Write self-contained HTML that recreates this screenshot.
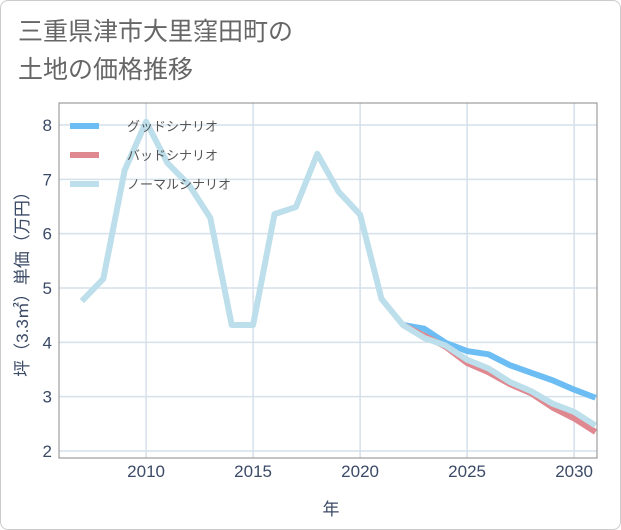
<!DOCTYPE html>
<html><head><meta charset="utf-8"><style>
body{margin:0;background:#fff;}
.card{position:absolute;left:0;top:0;width:619px;height:528px;border:1px solid #ccc;border-radius:8px;background:#fff;}
text{font-family:"Liberation Sans","Noto Sans CJK JP",sans-serif;}
</style></head><body>
<div class="card"></div>
<svg id="chart" width="621" height="530" style="position:absolute;left:0;top:0">
<text x="18" y="40" font-size="25" fill="#666">三重県津市大里窪田町の</text>
<text x="18" y="78" font-size="25" fill="#666">土地の価格推移</text>
<g id="grid"></g>
<g id="series"></g>
<rect x="59" y="103" width="538" height="355" fill="none" stroke="#888" stroke-width="1"/>
<g id="legend"></g>
<text x="331" y="515" font-size="17" fill="#3b4a66" text-anchor="middle">年</text>
<text transform="translate(28,280) rotate(-90)" font-size="17" fill="#3b4a66" text-anchor="middle">坪（3.3㎡）単価（万円）</text>
</svg>
<script>
const years=[2007,2008,2009,2010,2011,2012,2013,2014,2015,2016,2017,2018,2019,2020,2021,2022];
const normalHist=[4.76,5.17,7.17,8.06,7.3,6.9,6.29,4.32,4.32,6.36,6.49,7.47,6.77,6.35,4.8,4.32];
const futureYears=[2022,2023,2024,2025,2026,2027,2028,2029,2030,2031];
const goodVals=[4.32,4.25,3.99,3.84,3.78,3.58,3.44,3.3,3.13,2.98];
const badVals=[4.32,4.12,3.92,3.62,3.45,3.23,3.06,2.8,2.6,2.35];
const normalFuture=[4.32,4.08,3.94,3.68,3.52,3.27,3.1,2.87,2.72,2.47];
const xTicks=[2010,2015,2020,2025,2030];
const yTicks=[2,3,4,5,6,7,8];
const NS='http://www.w3.org/2000/svg';
const X0=59,X1=597,Y0=103,Y1=458;
const xMin=2005.93,xMax=2031.07;
function xs(v){return X0+(v-xMin)/(xMax-xMin)*(X1-X0);}
function ys(v){return 451-(v-2)*54.33;}
function mk(tag,attrs,parent){const e=document.createElementNS(NS,tag);for(const k in attrs)e.setAttribute(k,attrs[k]);parent.appendChild(e);return e;}
const grid=document.getElementById('grid');
xTicks.forEach(t=>{
  const l=mk('line',{x1:xs(t),x2:xs(t),y1:Y0,y2:Y1,stroke:'#d5e0ea','stroke-width':1.5},grid);
  
  
  const tx=mk('text',{x:xs(t),y:477,'font-size':17,fill:'#3b4a66','text-anchor':'middle'},grid);
  tx.textContent=t;
  
  
});
yTicks.forEach(t=>{
  const l=mk('line',{x1:X0,x2:X1,y1:ys(t),y2:ys(t),stroke:'#d5e0ea','stroke-width':1.5},grid);
  
  
  const tx=mk('text',{x:52,y:ys(t)+6,'font-size':17,fill:'#3b4a66','text-anchor':'end'},grid);
  tx.textContent=t;
  
  
});
const series=document.getElementById('series');
mk('clipPath',{id:'clip'},series).appendChild(Object.assign(document.createElementNS(NS,'rect')));
series.querySelector('clipPath rect').setAttribute('x',X0);
series.querySelector('clipPath rect').setAttribute('y',Y0);
series.querySelector('clipPath rect').setAttribute('width',X1-X0);
series.querySelector('clipPath rect').setAttribute('height',Y1-Y0);
function line(xv,yv,color,name){
  const p=mk('polyline',{points:xv.map((x,i)=>xs(x)+','+ys(yv[i])).join(' '),fill:'none',stroke:color,'stroke-width':6,'stroke-linejoin':'round','clip-path':'url(#clip)'},series);
  
  
}
line(futureYears,goodVals,'#6bbdf3','good-scenario-line');
line(futureYears,badVals,'#e0888f','bad-scenario-line');
line(years.concat(futureYears.slice(1)),normalHist.concat(normalFuture.slice(1)),'#bddeeb','normal-scenario-line');
const legend=document.getElementById('legend');
const items=[['グッドシナリオ','#6bbdf3'],['バッドシナリオ','#e0888f'],['ノーマルシナリオ','#bddeeb']];
items.forEach((it,i)=>{
  const y=126+i*29;
  const g=mk('g',{},legend);
  
  
  mk('line',{x1:70,x2:99,y1:y,y2:y,stroke:it[1],'stroke-width':6},g);
  const t=mk('text',{x:127,y:y+5,'font-size':13,fill:'#555'},g);
  t.textContent=it[0];
});
</script>
</body></html>
